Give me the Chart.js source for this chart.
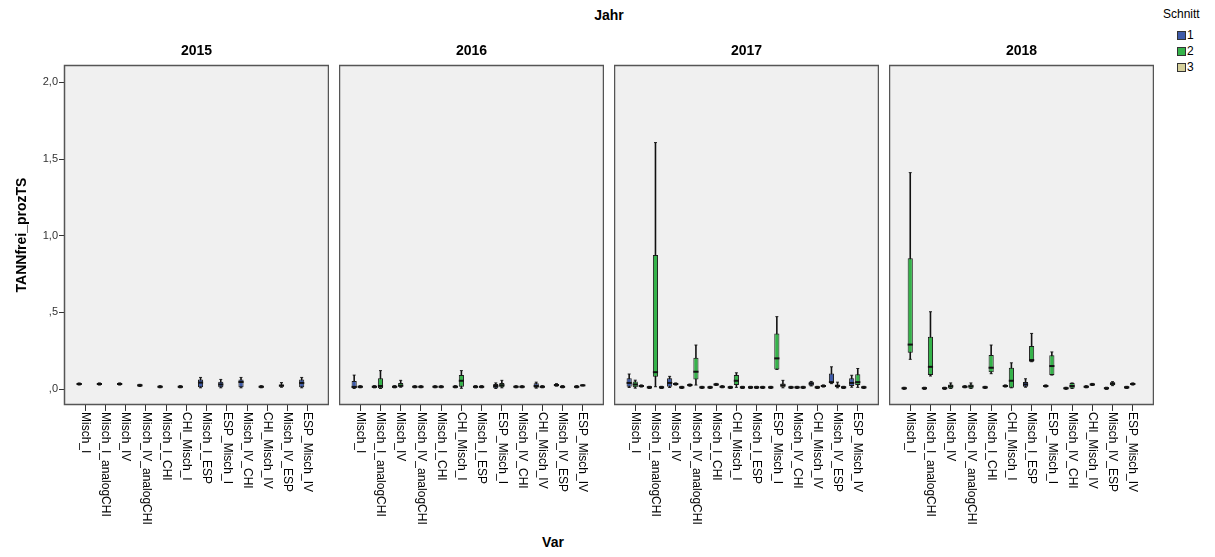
<!DOCTYPE html>
<html>
<head>
<meta charset="utf-8">
<script src="https://cdn.jsdelivr.net/npm/chart.js@4.4.1/dist/chart.umd.min.js"></script>
<style>
  html, body { margin: 0; padding: 0; background: #fff; }
  body { width: 1215px; height: 557px; position: relative; overflow: hidden; font-family: Arial, "Liberation Sans", sans-serif; }
  canvas { position: absolute; top: 0; }
  .txt { position: absolute; color: #000; white-space: nowrap; }
  .bold { font-weight: bold; font-size: 14px; line-height: 18px; text-align: center; }
  .sw { position: absolute; width: 7px; height: 7px; border: 1px solid #333; }
</style>
</head>
<body>
<div class="txt bold" style="left:559px;top:6px;width:100px;">Jahr</div>
<div class="txt bold" style="left:503px;top:533px;width:100px;">Var</div>

<div class="txt" style="left:1163px;top:7px;font-size:12px;">Schnitt</div>
<div class="sw" style="left:1177px;top:31px;background:#3f5ba9;"></div>
<div class="txt" style="left:1187px;top:28px;font-size:12px;">1</div>
<div class="sw" style="left:1177px;top:47px;background:#35b34a;"></div>
<div class="txt" style="left:1187px;top:44px;font-size:12px;">2</div>
<div class="sw" style="left:1177px;top:63px;background:#d6d09a;"></div>
<div class="txt" style="left:1187px;top:60px;font-size:12px;">3</div>

<canvas id="c2015" width="329" height="557" style="left:0px"></canvas>
<canvas id="c2016" width="265" height="557" style="left:339px"></canvas>
<canvas id="c2017" width="265" height="557" style="left:614px"></canvas>
<canvas id="c2018" width="265" height="557" style="left:889px"></canvas>

<script>
const YEARS = ['2015', '2016', '2017', '2018'];
const CATEGORIES = ['Misch_I', 'Misch_I_analogCHI', 'Misch_IV', 'Misch_IV_analogCHI', 'Misch_I_CHI', 'CHI_Misch_I',
  'Misch_I_ESP', 'ESP_Misch_I', 'Misch_IV_CHI', 'CHI_Misch_IV', 'Misch_IV_ESP', 'ESP_Misch_IV'];
const Y_TICKS = [0, 0.5, 1, 1.5, 2];
const SCHNITT_COLORS = ['#3f5ba9', '#35b34a', '#d6d09a'];

// one row per Var: [min, q1, median, q3, max], null = no box
const s1_2015 = [
  [0.026, 0.026, 0.033, 0.040, 0.040], [0.026, 0.026, 0.033, 0.040, 0.040], [0.026, 0.026, 0.033, 0.040, 0.040],
  [0.017, 0.017, 0.024, 0.031, 0.031], [0.008, 0.008, 0.015, 0.022, 0.022], [0.008, 0.008, 0.015, 0.022, 0.022],
  [0.008, 0.011, 0.042, 0.063, 0.076], [0.008, 0.011, 0.030, 0.048, 0.063], [0.008, 0.011, 0.046, 0.063, 0.076],
  [0.008, 0.008, 0.015, 0.022, 0.022], [0.012, 0.016, 0.022, 0.030, 0.042], [0.008, 0.011, 0.040, 0.063, 0.076]
];
const s2_2015 = [null, null, null, null, null, null, null, null, null, null, null, null];
const s3_2015 = [null, null, null, null, null, null, null, null, null, null, null, null];

const s1_2016 = [
  [0.004, 0.006, 0.014, 0.052, 0.091], [0.008, 0.008, 0.015, 0.022, 0.022], [0.008, 0.008, 0.015, 0.022, 0.022],
  [0.008, 0.008, 0.015, 0.022, 0.022], [0.008, 0.008, 0.015, 0.022, 0.022], [0.008, 0.008, 0.015, 0.022, 0.022],
  [0.008, 0.008, 0.015, 0.022, 0.022], [0.004, 0.006, 0.020, 0.033, 0.040], [0.008, 0.008, 0.015, 0.022, 0.022],
  [0.006, 0.008, 0.020, 0.038, 0.045], [0.019, 0.019, 0.026, 0.033, 0.035], [0.008, 0.008, 0.015, 0.022, 0.022]
];
const s2_2016 = [
  [0.008, 0.008, 0.015, 0.022, 0.022], [0.004, 0.006, 0.020, 0.070, 0.120], [0.012, 0.015, 0.022, 0.040, 0.057],
  [0.008, 0.008, 0.015, 0.022, 0.022], [0.008, 0.008, 0.015, 0.022, 0.022], [0.005, 0.015, 0.054, 0.091, 0.120],
  [0.008, 0.008, 0.015, 0.022, 0.022], [0.008, 0.011, 0.025, 0.040, 0.057], [0.008, 0.008, 0.015, 0.022, 0.022],
  [0.008, 0.008, 0.015, 0.022, 0.022], [0.008, 0.008, 0.015, 0.022, 0.022], [0.020, 0.020, 0.024, 0.028, 0.028]
];
const s3_2016 = [null, null, null, null, null, null, null, null, null, null, null, null];

const s1_2017 = [
  [0.010, 0.015, 0.040, 0.070, 0.098], [0.004, 0.004, 0.011, 0.018, 0.018], [0.010, 0.015, 0.040, 0.070, 0.083],
  [0.019, 0.019, 0.026, 0.033, 0.033], [0.004, 0.004, 0.011, 0.018, 0.018], [0.004, 0.004, 0.011, 0.018, 0.018],
  [0.004, 0.004, 0.011, 0.018, 0.018], [0.004, 0.004, 0.011, 0.018, 0.018], [0.004, 0.004, 0.011, 0.018, 0.018],
  [0.020, 0.022, 0.035, 0.048, 0.050], [0.035, 0.041, 0.045, 0.102, 0.145], [0.012, 0.020, 0.040, 0.070, 0.090]
];
const s2_2017 = [
  [0.006, 0.011, 0.030, 0.050, 0.058], [0.015, 0.080, 0.110, 0.874, 1.607], [0.026, 0.026, 0.033, 0.040, 0.040],
  [0.026, 0.063, 0.113, 0.204, 0.287], [0.023, 0.023, 0.030, 0.037, 0.037], [0.011, 0.026, 0.054, 0.091, 0.106],
  [0.004, 0.004, 0.011, 0.018, 0.018], [0.128, 0.128, 0.200, 0.363, 0.472], [0.004, 0.004, 0.011, 0.018, 0.018],
  [0.004, 0.004, 0.011, 0.018, 0.018], [0.008, 0.011, 0.020, 0.030, 0.045], [0.011, 0.026, 0.045, 0.096, 0.134]
];
const s3_2017 = [
  [0.013, 0.013, 0.020, 0.027, 0.027], [0.004, 0.004, 0.011, 0.018, 0.018], [0.004, 0.004, 0.011, 0.018, 0.018],
  [0.004, 0.004, 0.011, 0.018, 0.018], [0.008, 0.008, 0.015, 0.022, 0.022], [0.004, 0.004, 0.011, 0.018, 0.018],
  [0.004, 0.004, 0.011, 0.018, 0.018], [0.008, 0.011, 0.025, 0.037, 0.057], [0.004, 0.004, 0.011, 0.018, 0.018],
  [0.013, 0.013, 0.020, 0.027, 0.027], [0.004, 0.004, 0.011, 0.018, 0.018], [0.004, 0.004, 0.011, 0.018, 0.018]
];

const s1_2018 = [
  [-0.002, -0.002, 0.005, 0.012, 0.012], [-0.002, -0.002, 0.005, 0.012, 0.012], [-0.002, -0.002, 0.005, 0.012, 0.012],
  [0.008, 0.008, 0.015, 0.022, 0.022], [0.004, 0.004, 0.011, 0.018, 0.018], [0.013, 0.013, 0.020, 0.027, 0.027],
  [0.012, 0.015, 0.030, 0.046, 0.067], [0.013, 0.013, 0.020, 0.027, 0.027], [-0.002, -0.002, 0.005, 0.012, 0.012],
  [0.008, 0.008, 0.015, 0.022, 0.022], [-0.002, -0.002, 0.005, 0.012, 0.012], [0.004, 0.004, 0.011, 0.018, 0.018]
];
const s2_2018 = [
  [0.194, 0.237, 0.290, 0.853, 1.411], [0.085, 0.091, 0.145, 0.341, 0.504], [0.004, 0.004, 0.018, 0.030, 0.040],
  [0.004, 0.004, 0.018, 0.030, 0.040], [0.100, 0.109, 0.139, 0.222, 0.287], [0.008, 0.008, 0.054, 0.139, 0.171],
  [0.178, 0.178, 0.189, 0.280, 0.363], [0.091, 0.091, 0.150, 0.220, 0.242], [0.004, 0.004, 0.020, 0.040, 0.040],
  [0.023, 0.023, 0.030, 0.037, 0.037], [0.022, 0.025, 0.035, 0.045, 0.048], [0.026, 0.026, 0.033, 0.040, 0.040]
];
const s3_2018 = [null, null, null, null, null, null, null, null, null, null, null, null];

const SERIES = {
  '2015': [s1_2015, s2_2015, s3_2015],
  '2016': [s1_2016, s2_2016, s3_2016],
  '2017': [s1_2017, s2_2017, s3_2017],
  '2018': [s1_2018, s2_2018, s3_2018]
};

const FONT = 'Arial, "Liberation Sans", sans-serif';

// grey panel with frame
const panelFrame = {
  id: 'panelFrame',
  beforeDatasetsDraw(chart) {
    const { ctx, chartArea: a } = chart;
    ctx.save();
    ctx.fillStyle = '#f0f0f0';
    ctx.fillRect(a.left, a.top, a.right - a.left, a.bottom - a.top);
    ctx.restore();
  },
  afterDraw(chart) {
    const { ctx, chartArea: a } = chart;
    ctx.save();
    ctx.strokeStyle = '#555';
    ctx.lineWidth = 1.5;
    ctx.strokeRect(a.left + 0.5, a.top + 0.5, a.right - a.left - 1, a.bottom - a.top - 1);
    ctx.restore();
  }
};

// Var labels, read top to bottom under each tick
const varLabels = {
  id: 'varLabels',
  afterDraw(chart) {
    const { ctx, chartArea, scales: { x } } = chart;
    ctx.save();
    ctx.font = '12px ' + FONT;
    ctx.fillStyle = '#000';
    ctx.textAlign = 'left';
    ctx.textBaseline = 'middle';
    CATEGORIES.forEach((lab, i) => {
      ctx.save();
      ctx.translate(x.getPixelForValue(i), chartArea.bottom + 7);
      ctx.rotate(Math.PI / 2);
      ctx.fillText(lab, 0, 0);
      ctx.restore();
    });
    ctx.restore();
  }
};

function boxDatasets(series) {
  const out = [];
  series.forEach((rows, s) => {
    const stack = 's' + (s + 1);
    const pts = pick => rows.map((r, i) => (r ? { x: i, y: pick(r) } : null)).filter(Boolean);
    const common = { stack, borderSkipped: false, categoryPercentage: 0.9, barPercentage: 0.85 };
    out.push({ ...common, label: 'median', order: 0, data: pts(r => [r[2] - 0.0065, r[2] + 0.0065]),
      backgroundColor: '#111', borderWidth: 0 });
    out.push({ ...common, label: 'box', order: 1, data: pts(r => [r[1], r[3]]),
      backgroundColor: SCHNITT_COLORS[s], borderColor: '#1a1a1a', borderWidth: 1 });
    out.push({ ...common, label: 'whisker', order: 2, data: pts(r => [r[0], r[4]]),
      backgroundColor: '#111', borderWidth: 0, maxBarThickness: 1.6 });
    out.push({ ...common, label: 'capLo', order: 2, data: pts(r => [r[0] - 0.003, r[0] + 0.003]),
      backgroundColor: '#111', borderWidth: 0, maxBarThickness: 3 });
    out.push({ ...common, label: 'capHi', order: 2, data: pts(r => [r[4] - 0.003, r[4] + 0.003]),
      backgroundColor: '#111', borderWidth: 0, maxBarThickness: 3 });
  });
  return out;
}

YEARS.forEach((year, k) => {
  const first = k === 0;
  new Chart(document.getElementById('c' + year), {
    type: 'bar',
    data: { datasets: boxDatasets(SERIES[year]) },
    options: {
      responsive: false,
      animation: false,
      layout: { padding: 0 },
      plugins: {
        legend: { display: false },
        tooltip: { enabled: false },
        title: {
          display: true, text: year, fullSize: false, color: '#000',
          font: { family: FONT, size: 14, weight: 'bold' },
          padding: { top: 43, bottom: 5.2 }
        }
      },
      scales: {
        x: {
          type: 'linear', min: -1.05, max: 12.05, offset: false,
          afterBuildTicks: s => { s.ticks = CATEGORIES.map((_, i) => ({ value: i })); },
          afterFit: s => { s.height = 152; },
          ticks: { display: false },
          grid: { display: true, offset: false, drawOnChartArea: false, drawTicks: true, tickLength: 6, color: '#333' },
          border: { display: false }
        },
        y: {
          display: first,
          stacked: false,
          min: -0.104, max: 2.113,
          afterBuildTicks: s => { s.ticks = Y_TICKS.map(v => ({ value: v })); },
          afterFit: s => { s.width = first ? 64 : 0; },
          ticks: {
            padding: 1, color: '#333', font: { family: FONT, size: 11 },
            callback: v => { const t = v.toFixed(1).replace('.', ','); return t.startsWith('0') ? t.slice(1) : t; }
          },
          grid: { display: true, drawOnChartArea: false, drawTicks: true, tickLength: 5, color: '#333' },
          border: { display: false },
          title: {
            display: true, text: 'TANNfrei_prozTS', color: '#000',
            font: { family: FONT, size: 14, weight: 'bold' },
            padding: { top: 13.6, bottom: 0 }
          }
        }
      }
    },
    plugins: [panelFrame, varLabels]
  });
});
</script>
</body>
</html>
